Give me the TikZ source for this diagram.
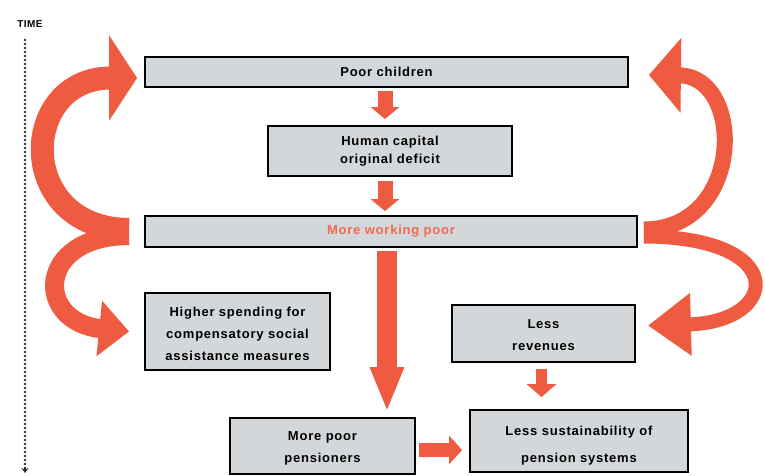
\documentclass[tikz,border=0pt]{standalone}
\usepackage{fontspec}
\setmainfont{Liberation Sans}
\usetikzlibrary{arrows.meta}
\definecolor{arr}{HTML}{EF5B40}
\definecolor{arrtxt}{HTML}{F06A50}
\definecolor{boxfill}{HTML}{D4D7DA}
\definecolor{axisgray}{HTML}{2A3038}
\begin{document}
\begin{tikzpicture}[x=1pt,y=-1pt,
  box/.style={draw=black, line width=1.8pt, fill=boxfill, align=center, inner sep=0pt,
    font=\fontsize{13}{22}\selectfont\bfseries\addfontfeature{LetterSpace=6}},
  barrow/.style n args={3}{draw=arr, line width=#1, -{Triangle[width=#2,length=#3]}},
  curv/.style n args={3}{draw=arr, line width=#1, -{Triangle[width=#2,length=#3]}}
]
\useasboundingbox (0,0) rectangle (765,476);

% boxes
\node[box, minimum width=483pt, minimum height=30pt] (pc) at (386.5,72) {Poor children};
\node[box, minimum width=244pt, minimum height=50pt] (hc) at (390,151) {Human capital\\[-4pt]original deficit};
\node[box, minimum width=492pt, minimum height=31pt, text=arrtxt] (wp) at (391,231.5) {More working poor};
\node[box, minimum width=185pt, minimum height=77pt] (hs) at (237.5,331.5) {\rule{0pt}{14pt}Higher spending for\\compensatory social\\assistance measures};
\node[box, minimum width=183pt, minimum height=57pt] (lr) at (543.5,333.5) {\rule{0pt}{13pt}Less\\revenues};
\node[box, minimum width=185pt, minimum height=56pt] (pp) at (322.5,446) {\rule{0pt}{13pt}More poor\\pensioners};
\node[box, minimum width=218pt, minimum height=62pt] (ls) at (579,441) {\rule{0pt}{19pt}Less sustainability of\\[5pt]pension systems};

% time axis
\node[font=\fontsize{10}{10}\selectfont\bfseries\addfontfeature{LetterSpace=4}] (time) at (30,24) {TIME};
\coordinate (tend) at (25,473);
\draw[axisgray, line width=2.6pt, line cap=round, dash pattern=on 0pt off 4pt]
  ([xshift=-5pt,yshift=-9pt]time.south) -- ([yshift=4pt]tend);
\draw[axisgray, line width=1.2pt, -{Stealth[length=5pt,width=7pt]}]
  ([yshift=6pt]tend) -- (tend);

% straight arrows
\draw[barrow={15pt}{28pt}{12pt}, shorten <=3pt, shorten >=6pt]
  ([xshift=-5pt]hc.north |- pc.south) -- ([xshift=-5pt]hc.north);
\draw[barrow={15pt}{28pt}{12pt}, shorten <=4pt, shorten >=4pt]
  ([xshift=-5pt]hc.south) -- ([xshift=-5pt]hc.south |- wp.north);
\draw[barrow={20pt}{31pt}{45pt}, shorten <=3pt, shorten >=5pt]
  ([xshift=-4pt]wp.south) -- ([xshift=-4pt]wp.south |- pp.north);
\draw[barrow={11pt}{29pt}{13pt}, shorten <=6pt, shorten >=12pt]
  ([xshift=-2pt]lr.south) -- ([xshift=-2pt]lr.south |- ls.north);
\draw[barrow={14pt}{28pt}{13pt}, shorten <=3pt, shorten >=7pt]
  ([yshift=-4pt]pp.east) -- ([yshift=-4pt]pp.east -| ls.west);

% curved arrows
\draw[curv={19pt}{54pt}{30pt}]
  ([xshift=-15pt,yshift=-4pt]wp.west) .. controls (35,236) and (35,322) .. ([xshift=-15pt]hs.west);
\draw[curv={23pt}{84pt}{28pt}]
  ([xshift=-15pt,yshift=2pt]wp.west) .. controls (15,229) and (18,78) .. ([xshift=-7pt,yshift=-6pt]pc.west);
\draw[curv={14pt}{60pt}{43pt}]
  ([xshift=6pt,yshift=-5pt]wp.east) .. controls (790,237) and (780,322) .. ([xshift=12pt,yshift=8pt]lr.east);
\draw[curv={16pt}{73pt}{32pt}]
  ([xshift=6pt,yshift=2pt]wp.east) .. controls (745,229) and (745,76) .. ([xshift=20pt,yshift=-3pt]pc.east);
\end{tikzpicture}
\end{document}
